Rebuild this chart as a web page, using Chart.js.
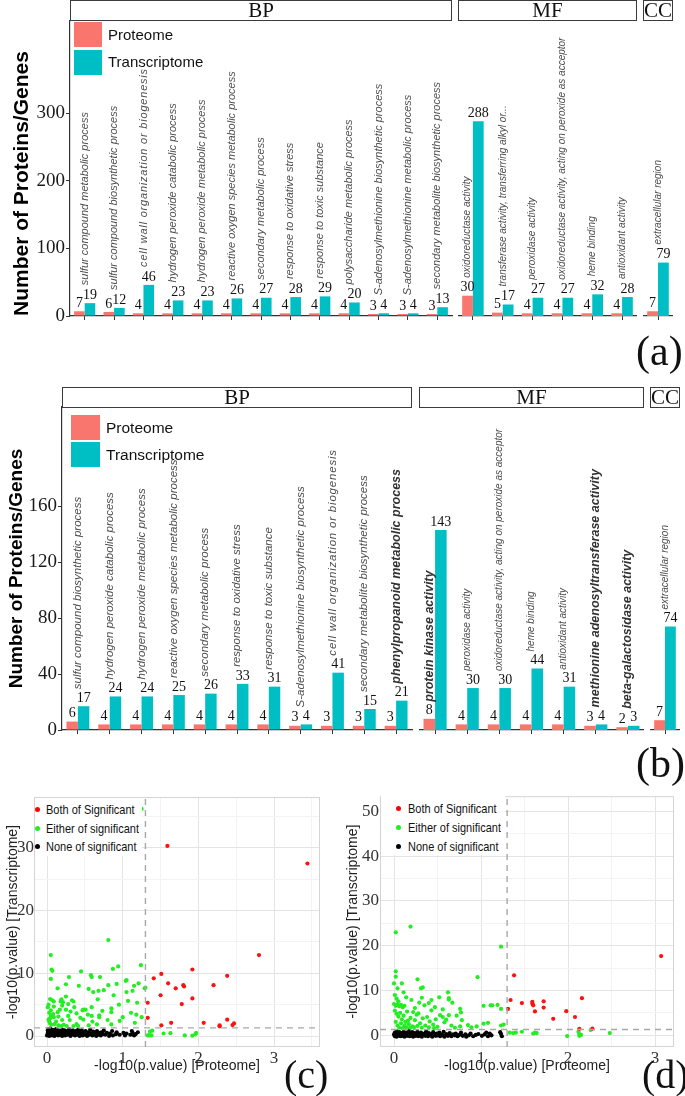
<!DOCTYPE html>
<html>
<head>
<meta charset="utf-8">
<script src="https://cdn.jsdelivr.net/npm/chart.js@4.4.1/dist/chart.umd.min.js"></script>
<style>
body{margin:0;background:#fff;}
#page{position:relative;width:685px;height:1096px;overflow:hidden;font-family:'Liberation Sans',Arial,sans-serif;}
canvas{position:absolute;}
.strip{position:absolute;box-sizing:border-box;height:21px;border:1.5px solid #3a3a3a;background:#fff;text-align:center;
  font-family:'Liberation Serif',serif;font-size:21px;line-height:18px;color:#111;}
.sw{position:absolute;width:28px;height:25px;}
.kt{position:absolute;font-size:15px;line-height:18px;color:#111;}
.lbox{position:absolute;background:#fff;}
.dot{position:absolute;width:5px;height:5px;border-radius:50%;}
.st{position:absolute;font-size:11px;line-height:14px;color:#111;transform:scaleY(1.22);transform-origin:left center;white-space:nowrap;}
.tag{position:absolute;font-family:'Liberation Serif',serif;font-size:42px;line-height:42px;color:#111;}
</style>
</head>
<body>
<div id="page">
  <canvas id="aBP" width="456" height="330" style="left:0;top:0"></canvas>
  <canvas id="aMF" width="179" height="330" style="left:458px;top:0"></canvas>
  <canvas id="aCC" width="30" height="330" style="left:643px;top:0"></canvas>
  <div class="strip" style="left:70px;top:0;width:382px">BP</div>
  <div class="strip" style="left:458px;top:0;width:179px">MF</div>
  <div class="strip" style="left:643px;top:0;width:30px">CC</div>
  <div class="sw" style="left:74px;top:22px;background:#F8766D"></div>
  <div class="sw" style="left:74px;top:50px;background:#00BFC4"></div>
  <div class="kt" style="left:108px;top:26px">Proteome</div>
  <div class="kt" style="left:108px;top:53px">Transcriptome</div>
  <div class="tag" style="left:636px;top:330px">(a)</div>

  <canvas id="bBP" width="414" height="365" style="left:0;top:380px"></canvas>
  <canvas id="bMF" width="225" height="365" style="left:419px;top:380px"></canvas>
  <canvas id="bCC" width="30" height="365" style="left:650px;top:380px"></canvas>
  <div class="strip" style="left:62px;top:387px;width:350px">BP</div>
  <div class="strip" style="left:419px;top:387px;width:225px">MF</div>
  <div class="strip" style="left:650px;top:387px;width:30px">CC</div>
  <div class="sw" style="left:71px;top:415px;width:29px;background:#F8766D"></div>
  <div class="sw" style="left:71px;top:442px;width:29px;background:#00BFC4"></div>
  <div class="kt" style="left:106px;top:419px;font-size:15.5px">Proteome</div>
  <div class="kt" style="left:106px;top:446px;font-size:15.5px">Transcriptome</div>
  <div class="tag" style="left:636px;top:742px">(b)</div>

  <canvas id="cSc" width="330" height="293" style="left:0;top:785px"></canvas>
  <canvas id="dSc" width="345" height="293" style="left:335px;top:785px"></canvas>
  <div class="lbox" style="left:36px;top:798px;width:106px;height:58px"></div>
  <div class="dot" style="left:35px;top:807px;background:#FF0000"></div>
  <div class="dot" style="left:35px;top:826px;background:#22EE22"></div>
  <div class="dot" style="left:35px;top:844px;background:#000"></div>
  <div class="st" style="left:46px;top:802px">Both of Significant</div>
  <div class="st" style="left:46px;top:821px">Either of significant</div>
  <div class="st" style="left:46px;top:839px">None of significant</div>
  <div class="lbox" style="left:381px;top:794px;width:124px;height:61px"></div>
  <div class="dot" style="left:396px;top:806px;background:#FF0000"></div>
  <div class="dot" style="left:396px;top:825px;background:#22EE22"></div>
  <div class="dot" style="left:396px;top:844px;background:#000"></div>
  <div class="st" style="left:408px;top:801px">Both of Significant</div>
  <div class="st" style="left:408px;top:820px">Either of significant</div>
  <div class="st" style="left:408px;top:839px">None of significant</div>
  <div class="tag" style="left:284px;top:1054px;font-size:40px">(c)</div>
  <div class="tag" style="left:642px;top:1054px;font-size:40px">(d)</div>
</div>

<script>
// ---- panel (a) ----
const aBpCats = ['sulfur compound metabolic process','sulfur compound biosynthetic process','cell wall organization or biogenesis',
  'hydrogen peroxide catabolic process','hydrogen peroxide metabolic process','reactive oxygen species metabolic process',
  'secondary metabolic process','response to oxidative stress','response to toxic substance','polysaccharide metabolic process',
  'S-adenosylmethionine biosynthetic process','S-adenosylmethionine metabolic process','secondary metabolite biosynthetic process'];
const aBpProteome = [7,6,4,4,4,4,4,4,4,4,3,3,3];
const aBpTranscriptome = [19,12,46,23,23,26,27,28,29,20,4,4,13];
const aMfCats = ['oxidoreductase activity','transferase activity, transferring alkyl or...','peroxidase activity',
  'oxidoreductase activity, acting on peroxide as acceptor','heme binding','antioxidant activity'];
const aMfProteome = [30,5,4,4,4,4];
const aMfTranscriptome = [288,17,27,27,32,28];
const aCcCats = ['extracellular region'];
const aCcProteome = [7];
const aCcTranscriptome = [79];
const aTicks = [0,100,200,300];

// ---- panel (b) ----
const bBpCats = ['sulfur compound biosynthetic process','hydrogen peroxide catabolic process','hydrogen peroxide metabolic process',
  'reactive oxygen species metabolic process','secondary metabolic process','response to oxidative stress',
  'response to toxic substance','S-adenosylmethionine biosynthetic process','cell wall organization or biogenesis',
  'secondary metabolite biosynthetic process','phenylpropanoid metabolic process'];
const bBpProteome = [6,4,4,4,4,4,4,3,3,3,3];
const bBpTranscriptome = [17,24,24,25,26,33,31,4,41,15,21];
const bMfCats = ['protein kinase activity','peroxidase activity','oxidoreductase activity, acting on peroxide as acceptor',
  'heme binding','antioxidant activity','methionine adenosyltransferase activity','beta-galactosidase activity'];
const bMfProteome = [8,4,4,4,4,3,2];
const bMfTranscriptome = [143,30,30,44,31,4,3];
const bCcCats = ['extracellular region'];
const bCcProteome = [7];
const bCcTranscriptome = [74];
const bTicks = [0,40,80,120,160];

// ---- panel (c) ----
const cBoth = [[1.59,30.3],[3.44,27.5],[2.80,12.9],[1.92,10.6],[2.38,9.6],[1.51,9.9],[1.41,9.2],[1.60,8.4],[1.80,8.1],
  [1.81,7.9],[1.70,7.6],[2.20,8.1],[1.50,6.5],[1.92,6.0],[1.78,5.1],[1.33,5.3],[1.33,2.9],[1.64,2.1],[1.51,1.7],
  [2.07,2.1],[2.38,2.6],[2.28,1.7],[2.28,1.55],[2.47,2.0],[2.45,1.75]];
const cEither = [[1.25,36.2],[0.81,15.3],[0.05,12.9],[0.06,10.6],[0.07,10.4],[0.05,9.1],[0.45,10.3],[0.87,10.7],[0.94,11.1],
  [1.24,11.3],[0.58,9.7],[0.59,9.4],[0.29,9.4],[0.70,9.4],[1.05,8.9],[1.04,8.8],[1.15,8.0],[1.21,8.4],[1.29,7.6],[1.30,7.7],
  [0.92,8.3],[0.81,8.1],[0.42,8.0],[0.25,8.25],[0.14,7.6],[0.55,7.5],[0.61,7.0],[0.68,7.2],[0.75,7.3],[0.88,6.5],[1.05,7.0],
  [1.13,7.2],[1.19,5.3],[1.07,5.6],[0.67,5.85],[0.25,6.3],[0.19,5.85],[0.07,5.7],[0.09,5.5],[0.04,5.9],[0.33,5.7],[0.35,5.5],
  [0.18,5.5],[0.21,5.4],[0.28,5.1],[0.47,4.1],[0.48,4.2],[0.51,4.2],[0.59,4.6],[0.85,4.4],[0.85,3.8],[1.11,3.7],[1.18,3.4],
  [0.69,3.3],[0.69,3.0],[0.59,3.2],[0.54,3.4],[0.39,3.6],[0.31,3.9],[0.25,4.2],[0.17,4.2],[0.20,4.85],[0.14,3.8],[0.09,4.7],
  [0.05,4.1],[0.08,3.5],[0.05,3.2],[0.09,3.0],[0.15,3.1],[0.20,2.55],[0.30,2.55],[0.39,1.9],[0.48,2.6],[0.60,2.3],[0.80,2.55],
  [0.96,2.4],[0.66,1.85],[0.85,1.85],[0.04,2.0],[0.03,2.3],[0.06,1.8],[0.02,2.6],[0.04,2.8],[0.10,1.9],[0.15,1.7],[0.19,1.6],
  [0.22,1.8],[0.26,1.6],[0.35,1.6],[0.41,1.6],[0.01,4.6],[0.03,3.7],[0.02,5.0],[0.12,2.3],[0.28,3.2],[0.44,2.9],[0.36,4.6],
  [0.55,1.7],[0.73,4.0],[1.00,3.0],[1.16,2.1],[0.95,5.0],[1.25,3.0],
  [1.39,0.85],[1.36,0.7],[1.33,0.1],[1.35,0.1],[1.38,0.1],[1.54,0.4],[1.63,0.45],[1.82,0.1],[1.92,0.05],[1.96,0.3],[1.97,0.5]];
const cNone = [[0.00,0.1],[0.01,0.5],[0.01,0.9],[0.02,0.3],[0.02,1.1],[0.03,0.0],[0.03,0.7],[0.04,0.4],[0.04,1.2],[0.05,0.2],
  [0.05,0.8],[0.06,0.5],[0.07,0.1],[0.07,1.0],[0.08,0.6],[0.09,0.3],[0.09,0.9],[0.10,0.0],[0.11,0.7],[0.11,0.4],[0.12,1.1],
  [0.13,0.2],[0.14,0.6],[0.15,0.9],[0.15,0.1],[0.16,0.4],[0.17,0.8],[0.18,0.2],[0.19,0.5],[0.20,1.0],[0.20,0.0],[0.21,0.7],
  [0.22,0.3],[0.23,0.9],[0.24,0.1],[0.25,0.5],[0.26,0.8],[0.27,0.2],[0.28,0.6],[0.29,1.1],[0.30,0.3],[0.31,0.0],[0.32,0.7],
  [0.33,0.4],[0.34,0.9],[0.35,0.2],[0.36,0.6],[0.37,0.1],[0.38,0.8],[0.39,0.4],[0.40,0.2],[0.41,1.0],[0.42,0.5],[0.43,0.0],
  [0.44,0.7],[0.45,0.3],[0.46,0.9],[0.47,0.1],[0.48,0.5],[0.50,0.2],[0.51,0.8],[0.52,0.4],[0.53,0.0],[0.55,0.6],[0.56,0.2],
  [0.57,1.0],[0.58,0.4],[0.60,0.1],[0.61,0.7],[0.62,0.3],[0.64,0.5],[0.65,0.0],[0.66,0.8],[0.68,0.2],[0.69,0.5],[0.71,0.1],
  [0.72,0.6],[0.74,0.3],[0.75,0.9],[0.77,0.2],[0.79,0.5],[0.82,0.0],[0.83,0.4],[0.86,0.8],[0.87,0.1],[0.91,0.3],[0.92,0.6],
  [0.96,0.2],[1.01,0.5],[1.03,0.1],[1.05,0.4],[1.10,0.2],[1.12,0.8],[1.13,0.5],[1.15,0.1],[1.17,0.3],[1.20,0.6]];
const cXTicks = [0,1,2,3];
const cYTicks = [0,10,20,30];

// ---- panel (d) ----
const dBoth = [[3.07,17.7],[1.38,13.4],[1.34,7.9],[1.31,5.9],[1.47,7.2],[1.59,7.5],[1.59,7.1],[1.60,6.7],[1.72,7.6],[1.72,6.2],
  [1.62,5.35],[2.16,8.3],[1.98,5.4],[2.08,4.1],[1.83,3.7],[2.13,1.45],[2.28,1.5]];
const dEither = [[0.02,23.0],[0.19,24.3],[1.23,19.8],[0.02,14.3],[0.02,13.1],[0.00,11.6],[0.04,10.5],[0.09,11.6],[0.11,9.6],
  [0.27,12.5],[0.31,10.5],[0.33,10.7],[0.96,13.0],[0.62,9.6],[0.63,8.3],[0.63,8.0],[0.52,8.5],[0.67,7.3],[0.32,8.4],[0.43,7.9],
  [0.40,7.2],[0.29,7.3],[0.35,6.7],[0.00,7.0],[0.02,6.6],[0.04,6.9],[0.06,6.5],[0.08,6.8],[0.10,6.3],[0.12,6.6],[1.03,6.6],
  [1.11,6.7],[1.13,6.7],[1.19,6.8],[1.23,5.9],[0.76,5.9],[0.77,5.1],[0.43,5.6],[0.22,5.2],[0.28,4.9],[0.53,4.5],[0.63,4.5],
  [0.56,4.1],[0.78,3.4],[1.03,2.6],[1.08,2.8],[0.85,2.3],[0.76,2.0],[1.23,2.2],[1.26,2.4],
  [0.01,5.5],[0.03,4.8],[0.05,4.2],[0.07,5.0],[0.09,3.6],[0.11,4.4],[0.13,3.0],[0.15,5.3],[0.17,2.5],[0.19,3.9],[0.21,2.0],
  [0.24,3.4],[0.26,4.6],[0.30,2.7],[0.33,3.8],[0.36,2.2],[0.38,4.1],[0.41,3.1],[0.45,2.4],[0.48,3.6],[0.50,1.9],[0.58,2.9],
  [0.60,3.5],[0.66,2.2],[0.70,1.7],[0.02,3.0],[0.04,2.2],[0.06,1.7],[0.08,2.7],[0.10,1.6],[0.12,2.1],[0.14,1.8],[0.16,3.3],
  [0.18,1.6],[0.23,1.8],[0.27,2.1],[0.32,1.7],[0.40,1.8],[0.46,1.6],[0.01,9.0],[0.03,8.2],[0.05,7.6],[0.14,8.5],[0.20,7.9],
  [0.24,6.1],[0.47,6.3],[0.56,5.8],[0.72,4.4],[0.89,1.8],[0.95,2.0],
  [1.33,0.6],[1.37,0.5],[1.40,0.6],[1.47,0.8],[1.60,0.4],[1.62,0.6],[1.64,0.5],[1.99,-0.15],[2.12,0.8],[2.13,0.3],[2.13,-0.1],
  [2.15,0.1],[2.26,1.2],[2.48,0.5]];
const dNone = [[0.00,0.2],[0.01,-0.2],[0.01,0.6],[0.02,0.0],[0.03,0.9],[0.03,-0.3],[0.04,0.4],[0.05,0.1],[0.06,-0.1],[0.06,0.7],
  [0.07,0.3],[0.08,-0.2],[0.09,0.5],[0.10,0.0],[0.11,0.8],[0.12,-0.3],[0.12,0.3],[0.13,0.1],[0.14,0.6],[0.15,-0.1],[0.16,0.2],
  [0.17,0.9],[0.18,-0.2],[0.19,0.4],[0.20,0.0],[0.21,0.7],[0.22,-0.3],[0.23,0.2],[0.24,0.5],[0.25,-0.1],[0.26,0.1],[0.27,0.8],
  [0.28,-0.2],[0.29,0.3],[0.30,0.0],[0.31,0.6],[0.32,-0.3],[0.33,0.2],[0.35,0.4],[0.36,-0.1],[0.37,0.9],[0.38,0.1],[0.39,-0.2],
  [0.40,0.5],[0.42,0.0],[0.43,0.3],[0.44,-0.3],[0.45,0.7],[0.46,0.1],[0.48,-0.1],[0.49,0.4],[0.50,0.0],[0.52,0.6],[0.53,-0.2],
  [0.54,0.2],[0.56,0.0],[0.57,0.8],[0.58,-0.3],[0.60,0.3],[0.61,0.1],[0.62,-0.1],[0.64,0.5],[0.65,0.0],[0.66,-0.2],[0.68,0.2],
  [0.70,0.0],[0.71,0.4],[0.73,-0.2],[0.75,0.1],[0.77,0.6],[0.79,-0.1],[0.82,0.2],[0.83,-0.3],[0.86,0.0],[0.88,0.4],[0.91,-0.2],
  [0.94,0.1],[0.97,0.3],[1.01,-0.1],[1.04,0.2],[1.06,0.6],[1.08,-0.2],[1.10,0.4],[1.12,0.0],[1.22,0.7],[1.23,0.3],[1.24,-0.2]];
const dXTicks = [0,1,2,3];
const dYTicks = [0,10,20,30,40,50];
const cutoff = 1.3;

Chart.defaults.font.family = "'Liberation Sans', Arial, sans-serif";
Chart.defaults.color = '#222';

const emphasised = new Set(['phenylpropanoid metabolic process','protein kinase activity',
  'methionine adenosyltransferase activity','beta-galactosidase activity']);
const spaced = new Set(['cell wall organization or biogenesis']);

// numbers over the bars + rotated GO term above each pair
const barText = {
  id: 'barText',
  afterDatasetsDraw(chart, args, o) {
    const ctx = chart.ctx;
    const pro = chart.getDatasetMeta(0).data, tra = chart.getDatasetMeta(1).data;
    const vp = chart.data.datasets[0].data, vt = chart.data.datasets[1].data;
    ctx.save();
    ctx.fillStyle = '#111';
    ctx.font = "14px 'Liberation Serif'";
    ctx.textAlign = 'center';
    ctx.textBaseline = 'bottom';
    pro.forEach(function(bar, i){
      ctx.fillText(vp[i], bar.x, bar.y - 1);
      ctx.fillText(vt[i], tra[i].x, tra[i].y - 1);
    });
    chart.data.labels.forEach(function(lab, i){
      let x = (pro[i].x + tra[i].x) / 2, top = Math.min(pro[i].y, tra[i].y);
      if (vt[i] > 100) { x = pro[i].x; top = pro[i].y; }
      ctx.save();
      ctx.font = emphasised.has(lab) ? o.emph : o.font;
      ctx.fillStyle = emphasised.has(lab) ? '#333' : '#4d4d4d';
      ctx.letterSpacing = spaced.has(lab) ? '0.8px' : '0px';
      ctx.translate(x, top - o.gap);
      ctx.rotate(-Math.PI / 2);
      ctx.textAlign = 'left';
      ctx.textBaseline = 'middle';
      ctx.fillText(lab, 0, 0);
      ctx.restore();
    });
    ctx.restore();
  }
};

function barChart(id, cats, pro, tra, o) {
  return new Chart(document.getElementById(id), {
    type: 'bar',
    data: {
      labels: cats,
      datasets: [
        { label: 'Proteome', data: pro, backgroundColor: '#F8766D' },
        { label: 'Transcriptome', data: tra, backgroundColor: '#00BFC4' }
      ]
    },
    options: {
      responsive: false,
      animation: false,
      layout: { padding: { top: o.top, right: o.right || 0, left: 0, bottom: 0 } },
      datasets: { bar: { categoryPercentage: 0.72, barPercentage: 1 } },
      plugins: {
        legend: { display: false },
        tooltip: { enabled: false },
        barText: { font: o.font, emph: o.emph, gap: o.gap }
      },
      scales: {
        x: {
          ticks: { display: false },
          grid: { drawOnChartArea: false, offset: false, tickLength: 4, color: '#333' },
          border: { color: '#333', width: 1.2 },
          afterFit(s) { s.height = o.xh; }
        },
        y: {
          display: !!o.showY,
          min: 0, max: o.ymax,
          afterBuildTicks(s) { s.ticks = o.ticks.map(v => ({ value: v })); },
          ticks: { font: { family: 'Liberation Serif', size: o.tickSize }, color: '#1a1a1a', padding: 1 },
          grid: { drawOnChartArea: false, tickLength: 4, color: '#333' },
          border: { color: '#333', width: 1.2 },
          title: {
            display: true, text: 'Number of Proteins/Genes', align: o.titleAlign,
            font: { size: o.titleSize, weight: 'bold' }, color: '#000', padding: { top: o.titlePad }
          },
          afterFit(s) { if (o.showY) s.width = o.yw; }
        }
      }
    },
    plugins: [barText]
  });
}

const aCommon = { top: 21, xh: 14, ymax: 436, ticks: aTicks, tickSize: 19, gap: 18,
  emph: "italic bold 12px 'Liberation Sans'", titleSize: 21, titleAlign: 'start', titlePad: 10 };
barChart('aBP', aBpCats, aBpProteome, aBpTranscriptome,
  Object.assign({}, aCommon, { showY: true, yw: 70, right: 4, font: "italic 11px 'Liberation Sans'" }));
barChart('aMF', aMfCats, aMfProteome, aMfTranscriptome,
  Object.assign({}, aCommon, { font: "italic 10px 'Liberation Sans'" }));
barChart('aCC', aCcCats, aCcProteome, aCcTranscriptome,
  Object.assign({}, aCommon, { font: "italic 10px 'Liberation Sans'" }));

const bCommon = { top: 27, xh: 15, ymax: 231, ticks: bTicks, tickSize: 19, gap: 17,
  emph: "italic bold 12.5px 'Liberation Sans'", titleSize: 19, titleAlign: 'center', titlePad: 5 };
barChart('bBP', bBpCats, bBpProteome, bBpTranscriptome,
  Object.assign({}, bCommon, { showY: true, yw: 62, right: 2, font: "italic 11.5px 'Liberation Sans'" }));
barChart('bMF', bMfCats, bMfProteome, bMfTranscriptome,
  Object.assign({}, bCommon, { font: "italic 10px 'Liberation Sans'" }));
barChart('bCC', bCcCats, bCcProteome, bCcTranscriptome,
  Object.assign({}, bCommon, { font: "italic 10px 'Liberation Sans'" }));

// light frame round the scatter panels
const panelBox = {
  id: 'panelBox',
  beforeDatasetsDraw(chart) {
    const a = chart.chartArea, ctx = chart.ctx;
    ctx.save();
    ctx.strokeStyle = '#d4d4d4';
    ctx.lineWidth = 1;
    ctx.strokeRect(a.left + 0.5, a.top + 0.5, a.right - a.left - 1, a.bottom - a.top - 1);
    ctx.restore();
  }
};

function scatterChart(id, both, either, none, o) {
  const dash = { type: 'line', borderColor: '#a8a8a8', borderWidth: 1.4, borderDash: [6, 5], pointRadius: 0 };
  const pts = { pointRadius: 2.1, pointBorderWidth: 0 };
  return new Chart(document.getElementById(id), {
    type: 'scatter',
    data: {
      datasets: [
        Object.assign({ data: [[cutoff, o.ymin], [cutoff, o.ymax]] }, dash),
        Object.assign({ data: [[o.xmin, cutoff], [o.xmax, cutoff]] }, dash),
        Object.assign({ label: 'Both of Significant', data: both, backgroundColor: '#FF1010' }, pts),
        Object.assign({ label: 'None of significant', data: none, backgroundColor: '#000' }, pts),
        Object.assign({ label: 'Either of significant', data: either, backgroundColor: '#22EE22' }, pts)
      ]
    },
    options: {
      responsive: false,
      animation: false,
      layout: { padding: { top: o.top, right: o.right, left: 0, bottom: 0 } },
      plugins: { legend: { display: false }, tooltip: { enabled: false } },
      scales: {
        x: {
          type: 'linear', min: o.xmin, max: o.xmax,
          afterBuildTicks(s) {
            s.ticks = o.xt.flatMap(v => [v, v + 0.5]).filter(v => v >= o.xmin && v <= o.xmax).map(v => ({ value: v }));
          },
          ticks: { autoSkip: false, maxRotation: 0, padding: 1, font: { family: 'Liberation Serif', size: 17 }, color: '#333',
            callback: v => (o.xt.includes(v) ? v : '') },
          grid: { drawTicks: false, color: c => (o.xt.includes(c.tick && c.tick.value) ? '#e4e4e4' : '#f3f3f3') },
          border: { display: false },
          title: { display: true, text: '-log10(p.value) [Proteome]', font: { size: 14 }, color: '#222', padding: { bottom: 3 } },
          afterFit(s) { s.height = 31; }
        },
        y: {
          type: 'linear', min: o.ymin, max: o.ymax,
          afterBuildTicks(s) {
            s.ticks = o.yt.flatMap(v => [v, v + 5]).filter(v => v >= o.ymin && v <= o.ymax).map(v => ({ value: v }));
          },
          ticks: { autoSkip: false, padding: o.ypad, font: { family: 'Liberation Serif', size: 17 }, color: '#333',
            callback: v => (o.yt.includes(v) ? v : '') },
          grid: { drawTicks: false, color: c => (o.yt.includes(c.tick && c.tick.value) ? '#e4e4e4' : '#f3f3f3') },
          border: { display: false },
          title: { display: true, text: '-log10(p.value) [Transcriptome]', font: { size: 14 }, color: '#222', padding: { top: o.tpad } },
          afterFit(s) { s.width = o.yw; }
        }
      }
    },
    plugins: [panelBox]
  });
}

scatterChart('cSc', cBoth, cEither, cNone,
  { xmin: -0.172, xmax: 3.606, ymin: -1.75, ymax: 38.1, xt: cXTicks, yt: cYTicks, top: 12, right: 10, yw: 34, ypad: 0, tpad: 5 });
scatterChart('dSc', dBoth, dEither, dNone,
  { xmin: -0.161, xmax: 3.218, ymin: -2.6, ymax: 53.4, xt: dXTicks, yt: dYTicks, top: 8, right: 6, yw: 45, ypad: 1, tpad: 10 });
</script>
</body>
</html>
